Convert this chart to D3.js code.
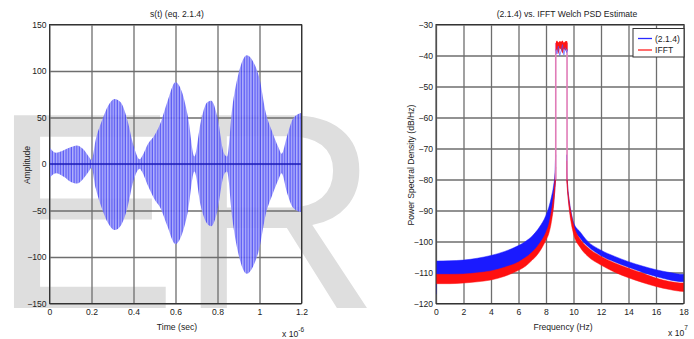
<!DOCTYPE html>
<html><head><meta charset="utf-8">
<script src="https://cdn.jsdelivr.net/npm/d3@7/dist/d3.min.js"></script>
<style>
body{margin:0;background:#fff;}
text{font-family:"Liberation Sans",Arial,sans-serif;}
</style>
</head><body>
<svg id="c" width="694" height="339"></svg>
<script>
// ---------- DATA ----------
// Left chart: s(t) envelope (time in units of 1e-6 s)
const timeTicks = [0, 0.2, 0.4, 0.6, 0.8, 1.0, 1.2];
const ampTicks = [-150, -100, -50, 0, 50, 100, 150];
const envT     = [0, 0.03, 0.07, 0.1, 0.13, 0.16, 0.19, 0.2, 0.22, 0.25, 0.28, 0.31, 0.34, 0.37, 0.4, 0.43, 0.44, 0.47, 0.5, 0.53, 0.56, 0.6, 0.63, 0.66, 0.69, 0.72, 0.75, 0.77, 0.8, 0.83, 0.845, 0.87, 0.9, 0.94, 0.97, 1.0, 1.03, 1.06, 1.09, 1.105, 1.13, 1.16, 1.2];
const envUpper = [18, 12, 15, 18, 20, 16, 7, 4, 26, 47, 63, 70, 66, 48, 20, 5, 8, 22, 31, 45, 66, 88, 78, 50, 8, 45, 66, 68, 50, 12, 8, 60, 97, 117, 110, 92, 55, 35, 18, 11, 29, 49, 55];
const envLower = [-15, -10, -14, -19, -21, -16, -7, -4, -26, -48, -64, -71, -66, -48, -18, -5, -8, -24, -38, -48, -66, -86, -76, -50, -8, -45, -64, -67, -50, -12, -8, -58, -97, -118, -110, -90, -54, -34, -17, -10, -30, -47, -52];
const zeroLine = [0, 0];

// Right chart: Welch PSD (frequency in units of 1e7 Hz, dB/Hz)
const freqTicks = [0, 2, 4, 6, 8, 10, 12, 14, 16, 18];
const psdTicks = [-120, -110, -100, -90, -80, -70, -60, -50, -40, -30];
const fLeft         = [0, 0.05, 1, 2, 3, 4, 5, 6, 6.5, 7, 7.5, 8, 8.2, 8.4, 8.55, 8.65, 8.7];
const blueUpLeft    = [-116, -106.3, -106.2, -106, -105.4, -104.5, -103.2, -101.3, -100, -98.2, -95.5, -91.5, -89, -85.5, -82, -78, -72];
const blueLoLeft    = [-117, -112.5, -112.5, -112.3, -112, -111.3, -110.2, -108.3, -107, -105, -102.5, -98.5, -96, -92, -88, -83, -80];
const redUpLeft     = [-110.6, -110.6, -110.6, -110.5, -110.1, -109.5, -108.3, -106.6, -105.2, -103.4, -100.8, -97, -94.5, -90, -85, -80, -76];
const redLoLeft     = [-113.6, -113.6, -113.6, -113.4, -113, -112.4, -111.2, -109.3, -108, -106, -103.5, -99.5, -97.5, -93.5, -88.5, -83, -80];
const fRight        = [9.5, 9.55, 9.7, 9.85, 10, 10.5, 11, 12, 13, 14, 15, 16, 17, 18, 18.1];
const blueUpRight   = [-72, -80, -87, -91, -93.8, -97, -99.8, -102.8, -104.8, -106.5, -107.9, -109.1, -110, -110.6, -110.6];
const blueLoRight   = [-78, -82, -89, -93, -95.5, -99, -101.4, -104.6, -106.6, -108.3, -109.9, -111.3, -112.4, -113, -113];
const redUpRight    = [-74, -80, -87.5, -91.5, -94.5, -99.3, -101.8, -104.8, -106.9, -108.6, -110.2, -111.8, -112.9, -113.4, -113.4];
const redLoRight    = [-80, -83, -90, -94.5, -97.5, -102, -104.6, -107.6, -109.9, -111.7, -113.2, -114.5, -115.5, -116.1, -116.1];
const peakEdges     = [8.71, 9.53];
const peakLineTop   = -36;
const peakLineBase  = -80;
const fPeak         = [8.72, 8.8, 8.9, 9.0, 9.1, 9.2, 9.3, 9.4, 9.5, 9.56];
const peakRedUp     = [-35.6, -35.2, -35.8, -35.3, -35.6, -35.2, -35.9, -35.4, -35.3, -35.6];
const peakRedLo     = [-38.6, -38.0, -39.6, -37.6, -38.2, -39.4, -37.8, -38.5, -38.0, -38.7];
const peakBlue      = [-38.0, -39.5, -37.0, -40.0, -38.5, -36.5, -39.8, -37.5, -39.0, -38.0];
const legendLabels  = ["(2.1.4)", "IFFT"];
const legendColors  = ["#2a2aff", "#ff2020"];

// ---------- DRAW ----------
const svg = d3.select("#c");
const FONT = 8.6, TXT = "#222";
const GRID = "#6e6e6e";

// watermark
svg.append("text").attr("x", -9).attr("y", 308)
  .attr("font-size", 280).attr("fill", "#dedede").text("ER");

function frame(g, x, y, xTicks, yTicks, xFmt, yFmt) {
  const [x0, x1] = x.range(), [y0, y1] = y.range();
  const w = x1 - x0, h = y0 - y1;
  const gx = g.append("g").attr("transform", `translate(0,${y0})`)
    .call(d3.axisBottom(x).tickValues(xTicks).tickSize(-h).tickPadding(5).tickFormat(xFmt));
  const gy = g.append("g").attr("transform", `translate(${x0},0)`)
    .call(d3.axisLeft(y).tickValues(yTicks).tickSize(-w).tickPadding(3).tickFormat(yFmt));
  [gx, gy].forEach(a => {
    a.select(".domain").remove();
    a.selectAll("line").attr("stroke", GRID).attr("stroke-width", 1.3);
    a.selectAll("text").attr("font-size", FONT).attr("fill", TXT)
      .attr("font-family", "Liberation Sans, Arial, sans-serif");
  });
  return {w, h};
}

// ----- LEFT CHART -----
const xL = d3.scaleLinear().domain([0, 1.2]).range([49.5, 301.5]);
const yL = d3.scaleLinear().domain([-150, 150]).range([303.5, 24.5]);
const gL = svg.append("g");

const defs = svg.append("defs");
const pat = defs.append("pattern").attr("id", "carrier").attr("patternUnits", "userSpaceOnUse")
  .attr("width", 2.7).attr("height", 10);
pat.append("rect").attr("width", 2.7).attr("height", 10).attr("fill", "#a9a9fb");
pat.append("rect").attr("x", 0.6).attr("width", 1.1).attr("height", 10).attr("fill", "#3c3cf4");

frame(gL, xL, yL, timeTicks, ampTicks, d3.format("~g"), d3.format("d"));

const envData = envT.map((t, i) => ({t, u: envUpper[i], l: envLower[i]}));
gL.append("path").datum(envData)
  .attr("d", d3.area().x(d => xL(d.t)).y0(d => yL(d.l)).y1(d => yL(d.u)).curve(d3.curveMonotoneX))
  .attr("fill", "url(#carrier)").attr("fill-opacity", 0.9);
gL.append("path").datum(zeroLine)
  .attr("d", d3.line().x((d, i) => xL(i === 0 ? 0 : 1.2)).y(d => yL(d)))
  .attr("stroke", "#1d1db8").attr("stroke-width", 1.6);
gL.append("rect").attr("x", xL(0)).attr("y", yL(150)).attr("width", xL(1.2) - xL(0)).attr("height", yL(-150) - yL(150))
  .attr("fill", "none").attr("stroke", "#333").attr("stroke-width", 1);

gL.append("text").attr("x", 177).attr("y", 17).attr("text-anchor", "middle")
  .attr("font-size", FONT).attr("fill", TXT).text("s(t) (eq. 2.1.4)");
gL.append("text").attr("x", 177).attr("y", 330).attr("text-anchor", "middle")
  .attr("font-size", FONT).attr("fill", TXT).text("Time (sec)");
gL.append("text").attr("transform", "translate(30,165) rotate(-90)").attr("text-anchor", "middle")
  .attr("font-size", FONT).attr("fill", TXT).text("Amplitude");
const sxL = gL.append("text").attr("x", 282).attr("y", 337).attr("font-size", FONT).attr("fill", TXT);
sxL.append("tspan").text("x 10");
sxL.append("tspan").attr("dy", -5).attr("font-size", 6.5).text("-6");

// ----- RIGHT CHART -----
const xR = d3.scaleLinear().domain([0, 18]).range([436, 683.5]);
const yR = d3.scaleLinear().domain([-120, -30]).range([303.5, 24.5]);
const gR = svg.append("g");
frame(gR, xR, yR, freqTicks, psdTicks, d3.format("d"), d3.format("d"));

const band = (fs, up, lo) => fs.map((f, i) => ({f, u: up[i], l: lo[i]}));
const areaR = d3.area().x(d => xR(d.f)).y0(d => yR(d.l)).y1(d => yR(d.u)).curve(d3.curveMonotoneX);
const clipR = defs.append("clipPath").attr("id", "clipR");
clipR.append("rect").attr("x", 436).attr("y", 24.5).attr("width", 683.5 - 436 + 0.5).attr("height", 279);
const gData = gR.append("g").attr("clip-path", "url(#clipR)");

[[fLeft, blueUpLeft, blueLoLeft, "#1a1aff"], [fRight, blueUpRight, blueLoRight, "#1a1aff"],
 [fLeft, redUpLeft, redLoLeft, "#ff1010"], [fRight, redUpRight, redLoRight, "#ff1010"]]
 .forEach(([fs, up, lo, c]) => {
   gData.append("path").datum(band(fs, up, lo)).attr("d", areaR)
     .attr("fill", c).attr("stroke", c).attr("stroke-width", 0.8).attr("stroke-opacity", 0.6);
 });

// peak edges
peakEdges.forEach(f => {
  gData.append("line").attr("x1", xR(f)).attr("x2", xR(f)).attr("y1", yR(peakLineBase)).attr("y2", yR(peakLineTop))
    .attr("stroke", "#e07cb8").attr("stroke-width", 1.6);
});
gData.append("path").datum(band(fPeak, peakRedUp, peakRedLo)).attr("d", areaR.curve(d3.curveLinear))
  .attr("fill", "#ff1414");
gData.append("path").datum(fPeak.map((f, i) => ({f, v: peakBlue[i]})))
  .attr("d", d3.line().x(d => xR(d.f)).y(d => yR(d.v)))
  .attr("fill", "none").attr("stroke", "#5050ff").attr("stroke-width", 0.9).attr("stroke-opacity", 0.7);

gR.append("rect").attr("x", xR(0)).attr("y", yR(-30)).attr("width", xR(18) - xR(0) + 0.5).attr("height", yR(-120) - yR(-30))
  .attr("fill", "none").attr("stroke", "#333").attr("stroke-width", 1);

// legend
const lg = gR.append("g");
lg.append("rect").attr("x", 633).attr("y", 28.5).attr("width", 51).attr("height", 28.5)
  .attr("fill", "#fff").attr("stroke", "#333").attr("stroke-width", 1);
legendLabels.forEach((lab, i) => {
  const yy = 38.5 + i * 11.5;
  lg.append("line").attr("x1", 638).attr("x2", 652).attr("y1", yy).attr("y2", yy)
    .attr("stroke", legendColors[i]).attr("stroke-width", 1.3);
  lg.append("text").attr("x", 655).attr("y", yy + 3).attr("font-size", FONT).attr("fill", TXT).text(lab);
});

gR.append("text").attr("x", 567).attr("y", 17).attr("text-anchor", "middle")
  .attr("font-size", FONT).attr("fill", TXT).text("(2.1.4) vs. IFFT Welch PSD Estimate");
gR.append("text").attr("x", 563).attr("y", 330).attr("text-anchor", "middle")
  .attr("font-size", FONT).attr("fill", TXT).text("Frequency (Hz)");
gR.append("text").attr("transform", "translate(414,165) rotate(-90)").attr("text-anchor", "middle")
  .attr("font-size", FONT).attr("fill", TXT).text("Power Spectral Density (dB/Hz)");
const sxR = gR.append("text").attr("x", 668).attr("y", 336).attr("font-size", FONT).attr("fill", TXT);
sxR.append("tspan").text("x 10");
sxR.append("tspan").attr("dy", -6).attr("font-size", 6.5).text("7");
</script>
</body></html>
